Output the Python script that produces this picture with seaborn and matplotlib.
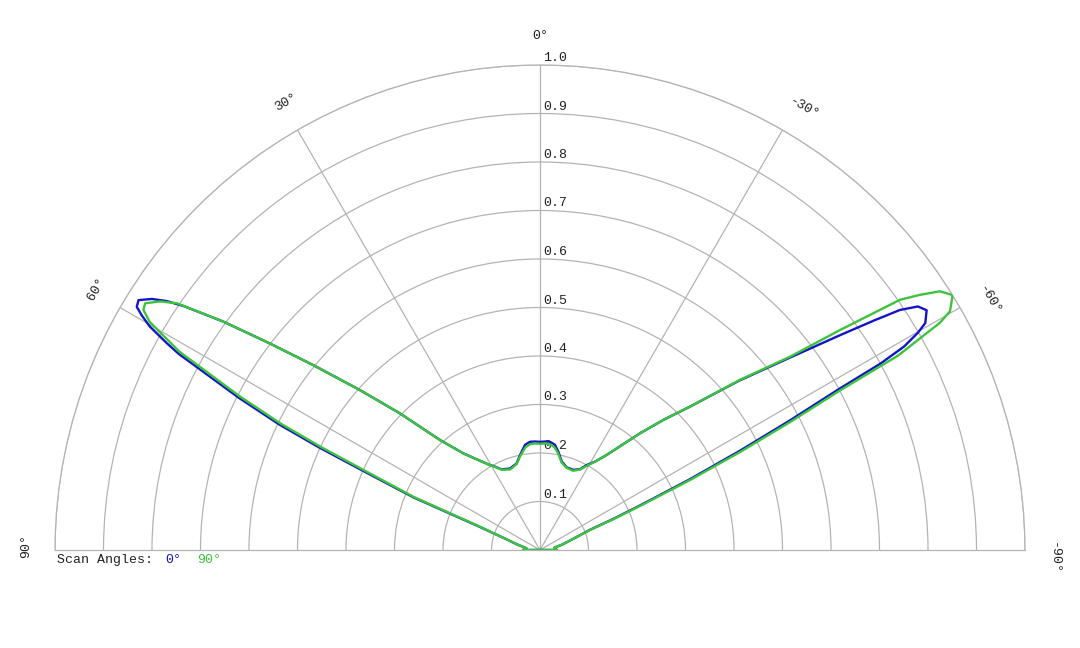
import numpy as np
import pandas as pd
import matplotlib
matplotlib.use("Agg")
import matplotlib.pyplot as plt
import matplotlib.transforms as mtransforms
import seaborn as sns

# ---- Data (angle in degrees, positive = left of broadside) ----
ang_0 = [-90, -86, -81, -76, -72, -70, -68.0, -67.0, -66.0, -64.75, -63.6, -62.6,
         -61.7, -61.3, -60.8, -60.1, -59.5, -58.2, -57.2, -56.3, -55.5, -54.4,
         -52.3, -49.6, -46.3, -43.5, -40.6, -35, -32, -28.8, -26.4, -22.6, -17.9,
         -13.8, -10.6, -8.1, -5.3, -3, 0,
         3, 5.3, 8.1, 11.9, 15.1, 20.2, 25.4, 29, 30.5, 38.4, 42.3, 45.7, 48.4,
         50.8, 52.6, 54.2, 55.6, 56.3, 57.1, 58.1, 58.9, 59.5, 60.2, 61.0, 61.5,
         62.0, 63.2, 64.3, 65.1, 65.9, 67.4, 69.0, 72, 76, 82.7, 86, 90]
gain_0 = [0.035, 0.030, 0.030, 0.048, 0.068, 0.085, 0.111, 0.165, 0.225, 0.340, 0.460, 0.580,
          0.700, 0.800, 0.860, 0.899, 0.922, 0.938, 0.927, 0.892, 0.835, 0.761,
          0.645, 0.538, 0.428, 0.370, 0.317, 0.239, 0.215, 0.200, 0.186, 0.179, 0.179,
          0.188, 0.206, 0.219, 0.224, 0.224, 0.223,
          0.224, 0.224, 0.219, 0.200, 0.185, 0.179, 0.184, 0.198, 0.203, 0.254, 0.307, 0.403, 0.497,
          0.603, 0.701, 0.805, 0.890, 0.925, 0.953, 0.975, 0.971, 0.953, 0.927, 0.880, 0.848,
          0.796, 0.695, 0.596, 0.501, 0.400, 0.283, 0.133, 0.075, 0.050, 0.028, 0.030, 0.035]

ang_90 = [-90, -86, -81, -76, -72, -70, -68.2, -67.2, -66.25, -65.0, -63.9, -62.9,
          -62.0, -61.5, -60.9, -60.4, -59.8, -58.3, -57.1, -56.1, -55.2, -53.75,
          -52.3, -49.6, -46.3, -43.5, -40.6, -35, -32, -29, -26.4, -22.6, -17.9,
          -13.8, -10.6, -8, -5.5, -3, 0,
          3, 5.5, 8, 11.9, 15.1, 20.2, 25.4, 29, 30.5, 38.4, 42.3, 45.7, 48.4,
          50.8, 52.6, 54.2, 55.8, 56.8, 58.0, 58.8, 59.7, 61.2, 61.7, 62.9, 64.0,
          64.8, 65.6, 67.2, 68.8, 72, 76, 82.7, 86, 90]
gain_90 = [0.035, 0.030, 0.030, 0.048, 0.068, 0.085, 0.111, 0.165, 0.225, 0.341, 0.460, 0.580,
           0.700, 0.840, 0.895, 0.948, 0.978, 1.000, 0.982, 0.943, 0.904, 0.767,
           0.652, 0.541, 0.428, 0.370, 0.317, 0.239, 0.215, 0.198, 0.185, 0.177, 0.178,
           0.186, 0.203, 0.214, 0.219, 0.220, 0.219,
           0.220, 0.219, 0.214, 0.198, 0.184, 0.177, 0.183, 0.197, 0.203, 0.254, 0.307, 0.403, 0.497,
           0.603, 0.701, 0.805, 0.905, 0.936, 0.960, 0.956, 0.932, 0.848, 0.796, 0.695, 0.596,
           0.501, 0.400, 0.283, 0.133, 0.075, 0.050, 0.028, 0.030, 0.035]

scan_names = ["0°", "90°"]
scan_colors = ["#1414c8", "#3cc43c"]
ring_values = [0.1, 0.2, 0.3, 0.4, 0.5, 0.6, 0.7, 0.8, 0.9, 1.0]
spoke_angles = [-60, -30, 0, 30, 60]
label_angles = [90, 60, 30, 0, -30, -60, -90]
label_texts = ["90°", "60°", "30°", "0°", "-30°", "-60°", "-90°"]


def trace(angles, gains, name):
    # close the pattern through the origin like the original tool does
    th = np.deg2rad([-90.0] + list(angles) + [90.0])
    r = [0.0] + list(gains) + [0.0]
    return pd.DataFrame({"theta": th, "gain": r, "scan": name})


df = pd.concat([trace(ang_0, gain_0, scan_names[0]),
                trace(ang_90, gain_90, scan_names[1])], ignore_index=True)

# ---- Plot ----
sns.set_theme(style="white")
plt.rcParams["font.family"] = ["Liberation Mono", "DejaVu Sans Mono"]
GRID = "#b4b4b4"
FS = 9.5

W, H = 1080, 648
fig = plt.figure(figsize=(W / 100, H / 100), dpi=100)
# polar axes keeps a square box; the half disc fills its width, centred vertically
side = 970
cy = (65 + 550) / 2
ax = fig.add_axes([55 / W, (H - cy - side / 2) / H, side / W, side / H], projection="polar")
ax.set_theta_zero_location("N")
ax.set_theta_direction(1)
ax.set_thetamin(-90)
ax.set_thetamax(90)
ax.set_ylim(0, 1.0)
ax.set_facecolor("white")

ax.set_rgrids(ring_values, labels=[])
ax.set_thetagrids(spoke_angles, labels=[])
ax.grid(True, color=GRID, linewidth=0.9)
for sp in ax.spines.values():
    sp.set_color(GRID)
    sp.set_linewidth(0.9)
ax.tick_params(length=0)

sns.lineplot(data=df, x="theta", y="gain", hue="scan", hue_order=scan_names,
             palette=scan_colors, sort=False, estimator=None, legend=False,
             linewidth=1.7, ax=ax, zorder=3)
ax.set_xlabel("")
ax.set_ylabel("")

# radial value labels next to the 0° spoke
off = mtransforms.offset_copy(ax.transData, fig=fig, x=3, y=4, units="dots")
for v in ring_values:
    ax.text(0, v, f"{v:.1f}", transform=off, ha="left", va="baseline",
            fontsize=FS, color="#222222", zorder=1)

# angle labels around the rim: text starts a little before the rim point
for a, t in zip(label_angles, label_texts):
    rad = np.deg2rad(a)
    tr = mtransforms.offset_copy(ax.transData, fig=fig, x=-8 * np.cos(rad),
                                 y=-8 * np.sin(rad), units="dots")
    ax.text(rad, 1.06, t, transform=tr, rotation=a, rotation_mode="anchor",
            ha="left", va="center", fontsize=FS, color="#222222")

# legend line
fig.text(57 / W, 1 - 563 / H, "Scan Angles:", fontsize=FS, color="#222222", va="baseline")
fig.text(165 / W, 1 - 563 / H, scan_names[0], fontsize=FS, color=scan_colors[0], va="baseline")
fig.text(197 / W, 1 - 563 / H, scan_names[1], fontsize=FS, color=scan_colors[1], va="baseline")

fig.savefig("out.png", dpi=100, facecolor="white")
plt.close(fig)
